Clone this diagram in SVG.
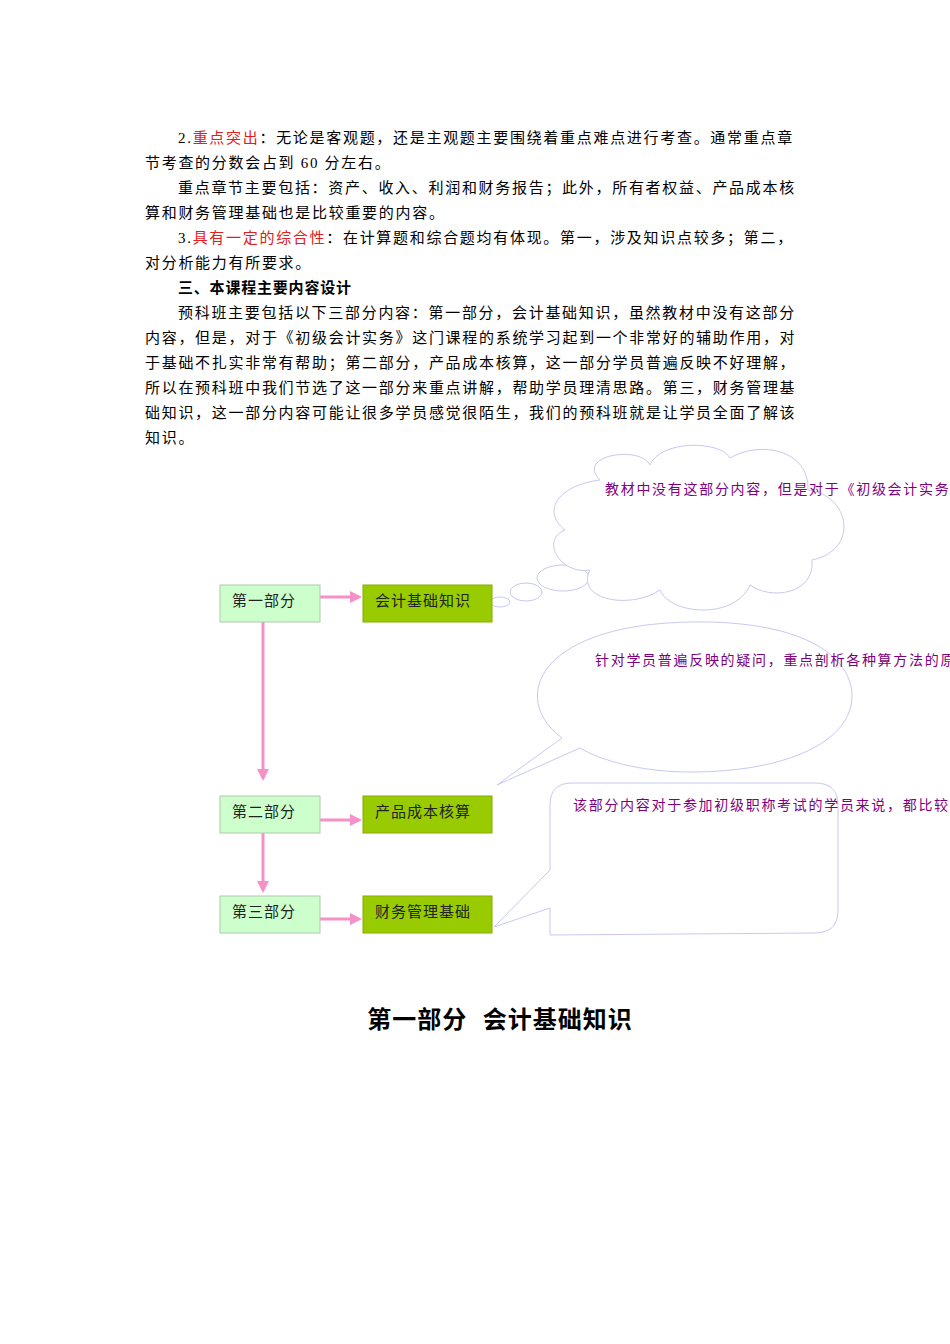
<svg xmlns="http://www.w3.org/2000/svg" width="950" height="1344" viewBox="0 0 950 1344">
<style>
.t{font-family:"Liberation Serif","Noto Sans CJK SC",serif;font-size:15px;fill:#000;letter-spacing:1.7px}
.r{fill:#e02020}
.b{font-weight:bold}
.lb{fill:#ccffcc;stroke:#b0c8b0;stroke-width:1}
.db{fill:#99cc00;stroke:#88aa00;stroke-width:1}
.nt{font-family:"Liberation Serif","Noto Sans CJK SC",serif;font-size:15px;fill:#222;letter-spacing:1px}
.c{fill:#fff;stroke:#c8c8f0;stroke-width:1}
.ct{font-family:"Liberation Serif","Noto Sans CJK SC",serif;font-size:14px;fill:#800080;letter-spacing:1.7px}
.a{stroke:#f590c8;stroke-width:3;fill:none;marker-end:url(#ah)}
</style>
<defs><marker id="ah" markerWidth="4" markerHeight="4" refX="3" refY="2" orient="auto"><path d="M0,0L4,2L0,4z" fill="#f590c8"/></marker></defs>
<rect width="950" height="1344" fill="#fff"/>
<g id="body">
<text class="t" x="178" y="143">2.<tspan class="r">重点突出</tspan>：无论是客观题，还是主观题主要围绕着重点难点进行考查。通常重点章</text>
<text class="t" x="145" y="168">节考查的分数会占到 60 分左右。</text>
<text class="t" x="178" y="193">重点章节主要包括：资产、收入、利润和财务报告；此外，所有者权益、产品成本核</text>
<text class="t" x="145" y="218">算和财务管理基础也是比较重要的内容。</text>
<text class="t" x="178" y="243">3.<tspan class="r">具有一定的综合性</tspan>：在计算题和综合题均有体现。第一，涉及知识点较多；第二，</text>
<text class="t" x="145" y="268">对分析能力有所要求。</text>
<text class="t b" x="178" y="293" style="letter-spacing:0.8px">三、本课程主要内容设计</text>
<text class="t" x="178" y="318">预科班主要包括以下三部分内容：第一部分，会计基础知识，虽然教材中没有这部分</text>
<text class="t" x="145" y="343">内容，但是，对于《初级会计实务》这门课程的系统学习起到一个非常好的辅助作用，对</text>
<text class="t" x="145" y="368">于基础不扎实非常有帮助；第二部分，产品成本核算，这一部分学员普遍反映不好理解，</text>
<text class="t" x="145" y="393">所以在预科班中我们节选了这一部分来重点讲解，帮助学员理清思路。第三，财务管理基</text>
<text class="t" x="145" y="418">础知识，这一部分内容可能让很多学员感觉很陌生，我们的预科班就是让学员全面了解该</text>
<text class="t" x="145" y="443">知识。</text>
</g>
<g id="callouts">
<g id="cloud">
<ellipse class="c" cx="500" cy="602" rx="10" ry="5"/>
<ellipse class="c" cx="526" cy="592" rx="16" ry="9"/>
<ellipse class="c" cx="563" cy="578" rx="26" ry="13"/>
<path class="c" d="M600,480 C575,455 640,445 650,465 C660,440 720,440 730,458 C760,440 810,450 808,490 C850,495 860,550 812,560 C815,595 770,600 750,585 C735,620 670,615 660,590 C630,610 575,600 590,570 C560,575 540,540 565,530 C540,510 560,485 600,480 Z"/>
<text class="ct" x="605" y="494">教材中没有这部分内容，但是对于《初级会计实务</text>
</g>
<g id="oval">
<path class="c" d="M497,785 L562,738 C510,700 535,625 690,622 C810,620 852,660 852,696 C852,740 790,772 690,772 C640,772 600,760 580,748 Z"/>
<text class="ct" x="595" y="665">针对学员普遍反映的疑问，重点剖析各种算方法的原</text>
</g>
<g id="rect">
<path class="c" d="M494,927 L550,908 L550,935 L815,933 Q838,933 838,910 L838,805 Q838,783 815,783 L572,783 Q550,783 550,805 L550,870 Z"/>
<text class="ct" x="573" y="810">该部分内容对于参加初级职称考试的学员来说，都比较</text>
</g>
</g>
<g id="connectors">
<line class="a" x1="320" y1="597" x2="359" y2="597"/>
<line class="a" x1="320" y1="820" x2="359" y2="820"/>
<line class="a" x1="320" y1="919" x2="359" y2="919"/>
<line class="a" x1="263" y1="622" x2="263" y2="778"/>
<line class="a" x1="263" y1="833" x2="263" y2="890"/>
</g>
<g id="n1"><rect class="lb" x="220" y="585" width="100" height="37"/><text class="nt" x="232" y="606">第一部分</text></g>
<g id="n2"><rect class="db" x="363" y="585" width="129" height="37"/><text class="nt" x="375" y="606">会计基础知识</text></g>
<g id="n3"><rect class="lb" x="220" y="796" width="100" height="37"/><text class="nt" x="232" y="817">第二部分</text></g>
<g id="n4"><rect class="db" x="363" y="796" width="129" height="37"/><text class="nt" x="375" y="817">产品成本核算</text></g>
<g id="n5"><rect class="lb" x="220" y="896" width="100" height="37"/><text class="nt" x="232" y="917">第三部分</text></g>
<g id="n6"><rect class="db" x="363" y="896" width="129" height="37"/><text class="nt" x="375" y="917">财务管理基础</text></g>
<text x="500" y="1028" text-anchor="middle" xml:space="preserve" style="font-family:'Liberation Sans','Noto Sans CJK SC',sans-serif;font-size:24px;font-weight:bold;letter-spacing:1px">第一部分  会计基础知识</text>
</svg>
